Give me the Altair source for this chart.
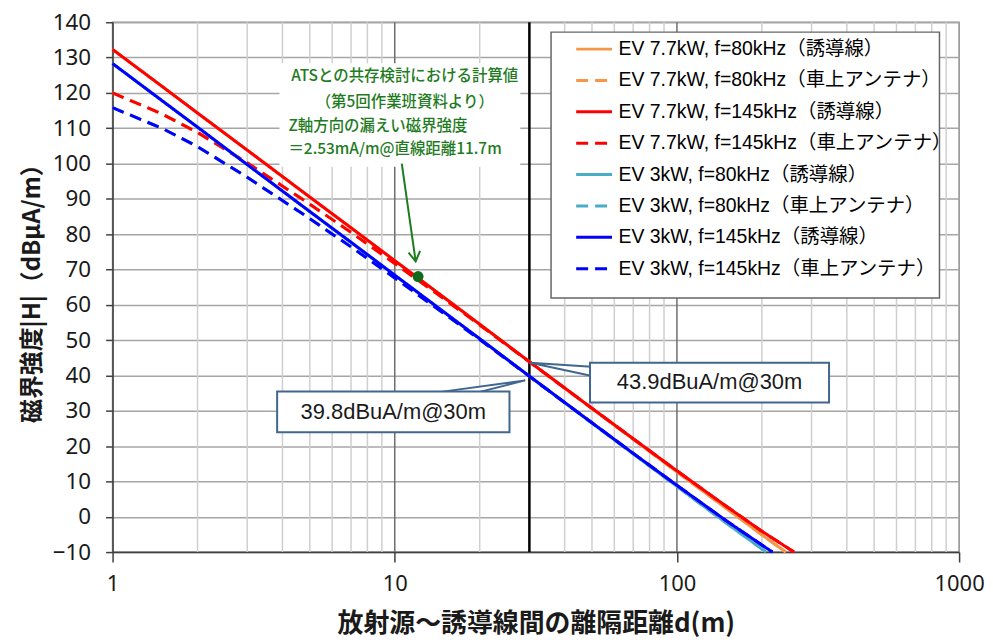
import altair as alt
import pandas as pd

# ---------------- data ----------------
SERIES = [
    "EV 7.7kW, f=80kHz（誘導線）",
    "EV 7.7kW, f=80kHz（車上アンテナ）",
    "EV 7.7kW, f=145kHz（誘導線）",
    "EV 7.7kW, f=145kHz（車上アンテナ）",
    "EV 3kW, f=80kHz（誘導線）",
    "EV 3kW, f=80kHz（車上アンテナ）",
    "EV 3kW, f=145kHz（誘導線）",
    "EV 3kW, f=145kHz（車上アンテナ）",
]
COLORS = ["#F79646", "#F79646", "#FF0000", "#FF0000",
          "#4BACC6", "#4BACC6", "#0000FF", "#0000FF"]
DASHES = [[1, 0], [12, 7], [1, 0], [12, 7], [1, 0], [12, 7], [1, 0], [12, 7]]

D_COMMON = [1, 1.5, 2, 3, 5, 7, 10, 15, 20, 30, 50, 70, 100, 150, 200]
D_END = [243, 243, 260, 260, 207, 207, 218, 218]

H_O_S = [132.3, 121.8, 114.3, 103.8, 90.5, 81.8, 72.5, 62.0, 54.5, 43.9, 30.65, 21.95, 12.7, 2.3, -5.1, -10]
H_O_D = [120.0, 114.0, 108.8, 100.2, 88.5, 80.5, 71.7, 61.6, 54.3, 43.85, 30.65, 21.95, 12.7, 2.3, -5.1, -10]
H_R_S = [132.3, 121.8, 114.3, 103.8, 90.5, 81.8, 72.5, 62.0, 54.5, 43.9, 30.7, 22.1, 13.0, 2.9, -4.1, -10]
H_R_D = [120.0, 114.0, 108.8, 100.2, 88.5, 80.5, 71.7, 61.6, 54.3, 43.85, 30.7, 22.1, 13.0, 2.9, -4.1, -10]
H_C_S = [128.3, 117.75, 110.3, 99.7, 86.4, 77.7, 68.4, 57.85, 50.4, 39.8, 26.5, 17.8, 8.6, -1.85, -9.1, -10]
H_C_D = [115.8, 109.95, 104.8, 96.1, 84.4, 76.4, 67.6, 57.45, 50.2, 39.75, 26.5, 17.8, 8.6, -1.85, -9.1, -10]
H_B_S = [128.3, 117.75, 110.3, 99.7, 86.4, 77.7, 68.4, 57.85, 50.4, 39.8, 26.6, 17.95, 8.9, -1.2, -8.0, -10]
H_B_D = [115.8, 109.95, 104.8, 96.1, 84.4, 76.4, 67.6, 57.45, 50.2, 39.75, 26.6, 17.95, 8.9, -1.2, -8.0, -10]
H_VALUES = [H_O_S, H_O_D, H_R_S, H_R_D, H_C_S, H_C_D, H_B_S, H_B_D]

X_TICKS = [1, 10, 100, 1000]
Y_TICKS = list(range(-10, 141, 10))
MINOR_X = [2, 3, 4, 5, 6, 7, 8, 9, 20, 30, 40, 50, 60, 70, 80, 90,
           200, 300, 400, 500, 600, 700, 800, 900]
MAJOR_X = [10, 100]
MARK_30 = [30]

DOT_D, DOT_H = [12.1], [68.0]
ARROW_D, ARROW_H = [10.59, 11.86], [100.0, 72.3]

ANN_BOX = dict(d=3.905, d2=27.85, h=99.1, h2=128.4)
ANN_TEXT_C = ["ATSとの共存検討における計算値", "（第5回作業班資料より）"]
ANN_D_C, ANN_H_C = [10.85, 10.85], [124.8, 117.5]
ANN_TEXT_L = ["Z軸方向の漏えい磁界強度", "＝2.53mA/m@直線距離11.7m"]
ANN_D_L, ANN_H_L = [4.2, 4.2], [110.7, 104.2]

CALL_TEXT = ["39.8dBuA/m@30m", "43.9dBuA/m@30m"]
CALL_TD, CALL_TH = [9.88, 130.5], [29.7, 38.0]
CALL_BOX_D, CALL_BOX_D2 = [3.83, 49.2], [25.5, 346]
CALL_BOX_H, CALL_BOX_H2 = [23.9, 32.35], [35.45, 43.6]
PTR1_D, PTR1_H = [12.2, 29.0, 18.2], [34.5, 38.6, 34.5]
PTR2_D, PTR2_H = [53.0, 30.2, 53.0], [42.3, 43.6, 39.4]

LEG_BOX = dict(d=35.8, d2=852, h=61.9, h2=137.2)

X_TITLE = "放射源～誘導線間の離隔距離d(m)"
Y_TITLE = "磁界強度|H|（dBμA/m）"

# ---------------- frames ----------------
rows = []
for i, name in enumerate(SERIES):
    ds = D_COMMON + [D_END[i]]
    for k, (d, h) in enumerate(zip(ds, H_VALUES[i])):
        rows.append({"series": name, "d": d, "H": h, "k": k, "s": i})
lines_df = pd.DataFrame(rows)

CJK = "Noto Sans CJK JP"
LAT = "Liberation Sans, Arial, Noto Sans CJK JP"
TXT = "#1a1a1a"
AX = "#404040"
GREEN = "#1E7B1E"
CALL = "#41668F"

XSCALE = alt.Scale(type="log", domain=[1, 1000], nice=False)
YSCALE = alt.Scale(domain=[-10, 140], nice=False, zero=False)
XAXIS = alt.Axis(values=X_TICKS, format="d", grid=False, title=X_TITLE,
                 titleFont=CJK, titleFontSize=26, titleFontWeight="bold",
                 titleColor=TXT, titlePadding=16,
                 labelFont="Noto Sans", labelFontSize=22, labelColor=TXT,
                 labelPadding=12, labelFlush=False, labelOverlap=False,
                 tickSize=10, tickWidth=1.5, tickColor=AX,
                 domainColor=AX, domainWidth=1.5)
YAXIS = alt.Axis(values=Y_TICKS, grid=True, gridColor="#A6A6A6", gridWidth=1.5,
                 title=Y_TITLE, titleFont=CJK, titleFontSize=24,
                 titleFontWeight="bold", titleColor=TXT, titlePadding=8,
                 labelFont="Noto Sans", labelFontSize=22.5, labelColor=TXT,
                 labelPadding=15, labelOverlap=False,
                 tickSize=7, tickWidth=1.5, tickColor=AX,
                 domainColor=AX, domainWidth=1.5)


def X(f):
    return alt.X(f"{f}:Q", scale=XSCALE, axis=XAXIS)


def Y(f):
    return alt.Y(f"{f}:Q", scale=YSCALE, axis=YAXIS)


LEG = alt.Legend(orient="none", legendX=467, legendY=10.5,
                 symbolType="M-1.2,0H1.2", symbolSize=900, symbolStrokeWidth=3,
                 labelFont=LAT, labelFontSize=19.5, labelColor="#000000",
                 labelLimit=0, labelOffset=8, rowPadding=5.5, padding=0)

minor = alt.Chart(pd.DataFrame({"d": MINOR_X})).mark_rule(
    color="#CFCFCF", strokeWidth=1.5).encode(x=X("d"))
major = alt.Chart(pd.DataFrame({"d": MAJOR_X})).mark_rule(
    color="#6E6E6E", strokeWidth=1.5).encode(x=X("d"))
rule30 = alt.Chart(pd.DataFrame({"d": MARK_30})).mark_rule(
    color="#000000", strokeWidth=2.5).encode(x=X("d"))

ann_box = alt.Chart(pd.DataFrame([ANN_BOX])).mark_rect(
    fill="white", stroke=None).encode(x=X("d"), x2="d2", y=Y("h"), y2="h2")

lines = alt.Chart(lines_df).mark_line(strokeWidth=3).encode(
    x=X("d"), y=Y("H"),
    color=alt.Color("series:N", scale=alt.Scale(domain=SERIES, range=COLORS),
                    legend=LEG, title=None),
    strokeDash=alt.StrokeDash("series:N", scale=alt.Scale(domain=SERIES, range=DASHES),
                              legend=LEG, title=None),
    order=alt.Order("k:Q"),
)

dot = alt.Chart(pd.DataFrame({"d": DOT_D, "H": DOT_H})).mark_point(
    filled=True, color="#0F6A1A", size=120, opacity=1).encode(x=X("d"), y=Y("H"))

arrow = alt.Chart(pd.DataFrame({"d": [ARROW_D[0]], "d2": [ARROW_D[1]],
                                "h": [ARROW_H[0]], "h2": [ARROW_H[1]]})).mark_rule(
    color=GREEN, strokeWidth=2).encode(x=X("d"), x2="d2", y=Y("h"), y2="h2")
arrow_head = alt.Chart(pd.DataFrame({"d": [ARROW_D[1]], "H": [ARROW_H[1]]})).mark_point(
    shape="M-0.6,-1L0,0L0.6,-1", filled=False, color=GREEN, strokeWidth=2,
    size=380, angle=352, opacity=1).encode(x=X("d"), y=Y("H"))

ptr_df = pd.DataFrame(
    [{"g": 0, "k": k, "d": d, "H": h} for k, (d, h) in enumerate(zip(PTR1_D, PTR1_H))]
    + [{"g": 1, "k": k, "d": d, "H": h} for k, (d, h) in enumerate(zip(PTR2_D, PTR2_H))])
pointers = alt.Chart(ptr_df).mark_line(fill="white", stroke=CALL, strokeWidth=2).encode(
    x=X("d"), y=Y("H"), detail="g:N", order=alt.Order("k:Q"))

call_df = pd.DataFrame({"d": CALL_BOX_D, "d2": CALL_BOX_D2,
                        "h": CALL_BOX_H, "h2": CALL_BOX_H2})
call_boxes = alt.Chart(call_df).mark_rect(fill="white", stroke=CALL, strokeWidth=2).encode(
    x=X("d"), x2="d2", y=Y("h"), y2="h2")
call_text = alt.Chart(pd.DataFrame({"t": CALL_TEXT, "d": CALL_TD, "H": CALL_TH})).mark_text(
    font=LAT, fontSize=22, color=TXT, align="center", baseline="middle").encode(
    x=X("d"), y=Y("H"), text="t:N")

leg_box = alt.Chart(pd.DataFrame([LEG_BOX])).mark_rect(
    fill="white", stroke="#666666", strokeWidth=1.5).encode(
    x=X("d"), x2="d2", y=Y("h"), y2="h2")

ann_c = alt.Chart(pd.DataFrame({"t": ANN_TEXT_C, "d": ANN_D_C, "H": ANN_H_C})).mark_text(
    font=CJK, fontSize=15.5, fontWeight=500, color=GREEN, align="center",
    baseline="middle").encode(x=X("d"), y=Y("H"), text="t:N")
ann_l = alt.Chart(pd.DataFrame({"t": ANN_TEXT_L, "d": ANN_D_L, "H": ANN_H_L})).mark_text(
    font=CJK, fontSize=15.5, fontWeight=500, color=GREEN, align="left",
    baseline="middle").encode(x=X("d"), y=Y("H"), text="t:N")

chart = alt.layer(
    minor, major, rule30, ann_box, lines, dot, arrow, arrow_head,
    pointers, call_boxes, call_text, leg_box, ann_c, ann_l,
).properties(
    width=850, height=532,
    autosize=alt.AutoSizeParams(type="none"),
    padding={"left": 105, "top": 13, "right": 26, "bottom": 87},
    background="white",
).configure_view(stroke="#8C8C8C", strokeWidth=1.5)

chart.save("out.html", embed_options={"renderer": "svg", "actions": False})
